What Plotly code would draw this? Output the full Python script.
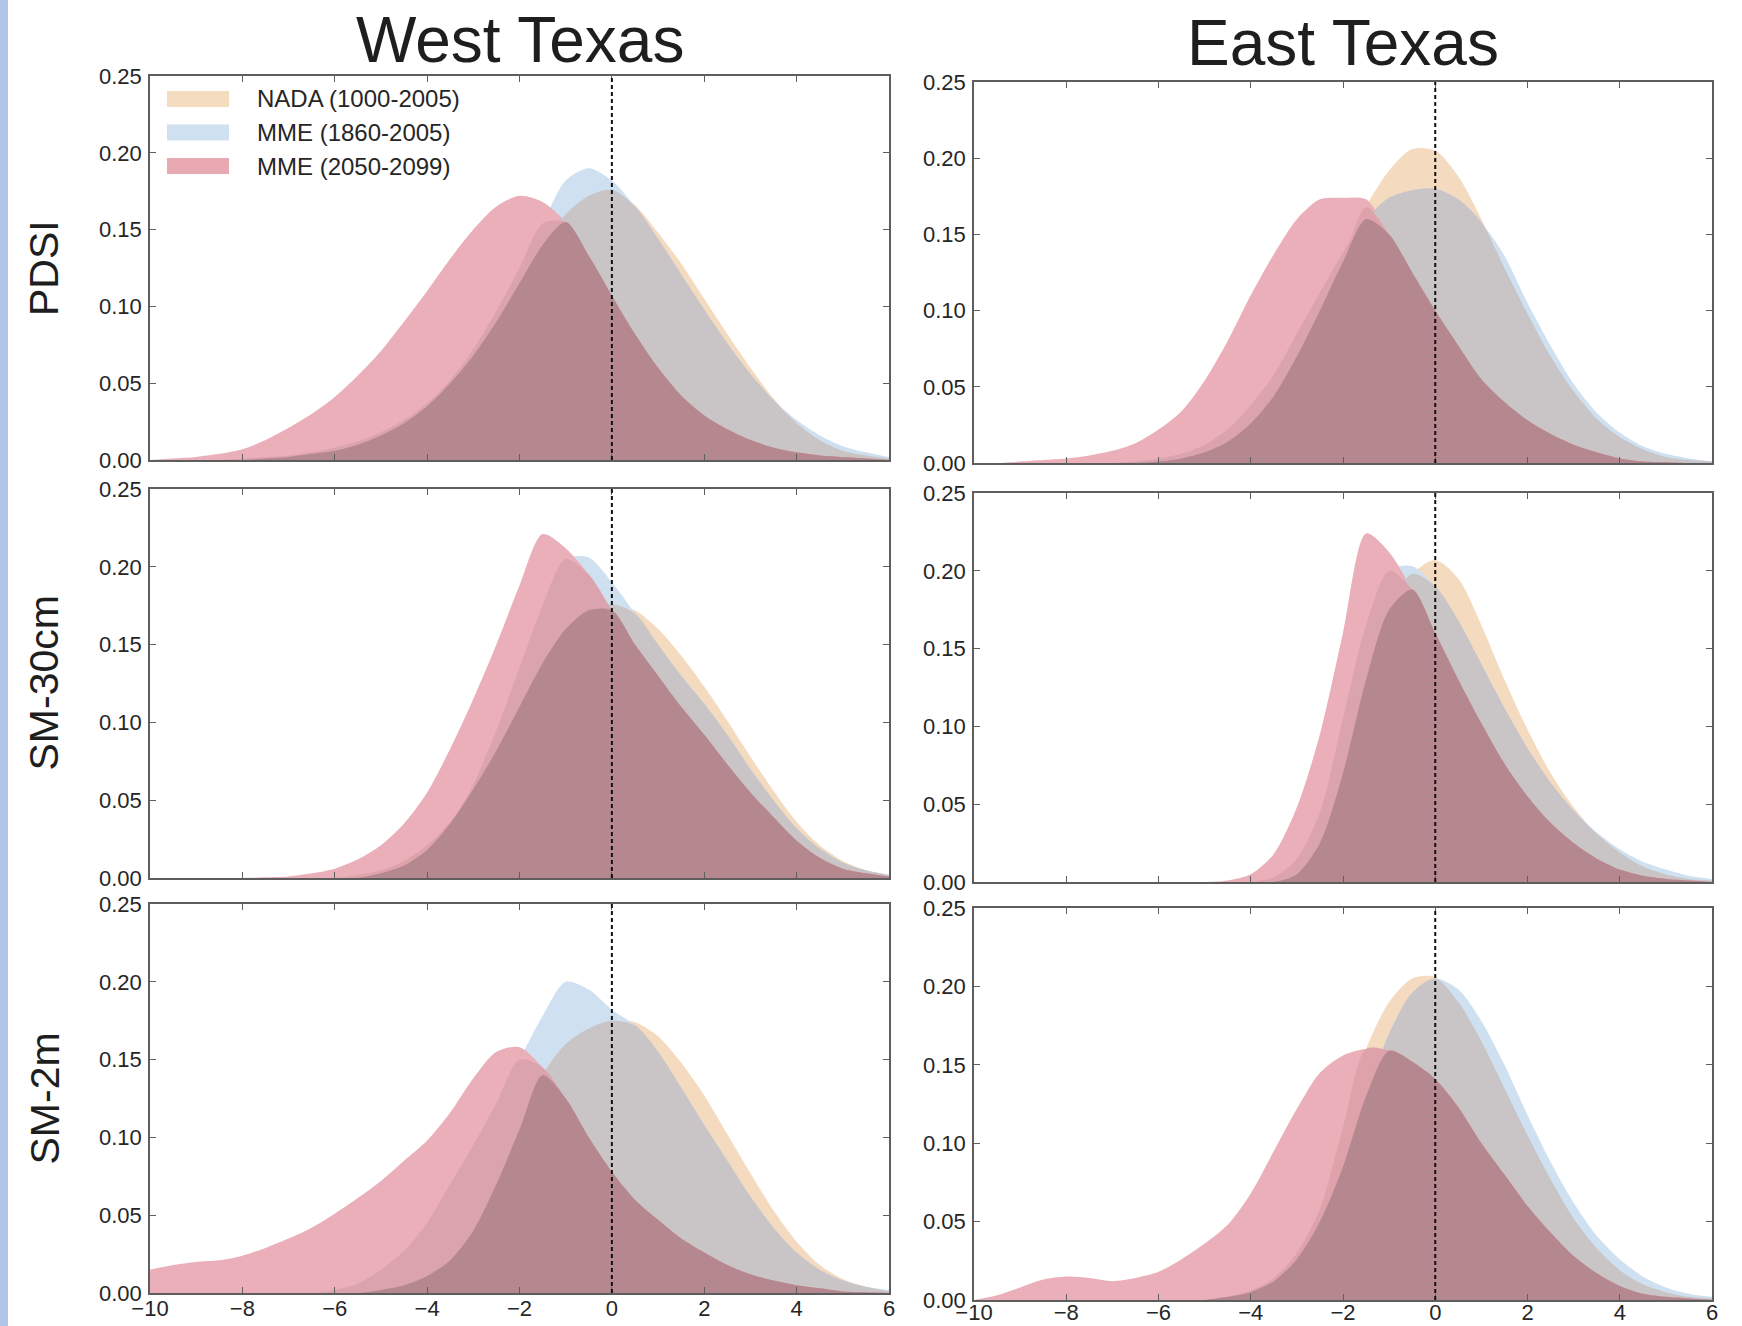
import numpy as np
import plotly.graph_objects as go

# ---------------------------------------------------------------------------
# Data: kernel density estimates of drought indices (shared x grid)
# ---------------------------------------------------------------------------
X_VALUES = [-10.0, -9.5, -9.0, -8.5, -8.0, -7.5, -7.0, -6.5, -6.0, -5.5, -5.0,
            -4.5, -4.0, -3.5, -3.0, -2.5, -2.0, -1.5, -1.0, -0.5, 0.0, 0.5,
            1.0, 1.5, 2.0, 2.5, 3.0, 3.5, 4.0, 4.5, 5.0, 5.5, 6.0]

SERIES_NAMES = ["NADA (1000-2005)", "MME (1860-2005)", "MME (2050-2099)"]
COLUMN_TITLES = ["West Texas", "East Texas"]
ROW_TITLES = ["PDSI", "SM-30cm", "SM-2m"]
X_TICKS = [-10, -8, -6, -4, -2, 0, 2, 4, 6]
Y_TICKS = [0.00, 0.05, 0.10, 0.15, 0.20, 0.25]

# West Texas
west_pdsi_nada = [0, 0, 0, 0, 0, 0.001, 0.002, 0.004, 0.006, 0.010, 0.016, 0.024, 0.035, 0.050,
                  0.068, 0.090, 0.115, 0.140, 0.160, 0.172, 0.176, 0.166, 0.148, 0.128, 0.105,
                  0.082, 0.060, 0.040, 0.024, 0.013, 0.006, 0.003, 0.001]
west_pdsi_hist = [0, 0, 0, 0, 0.001, 0.002, 0.003, 0.005, 0.008, 0.012, 0.018, 0.026, 0.037, 0.052,
                  0.072, 0.097, 0.125, 0.154, 0.182, 0.190, 0.182, 0.165, 0.144, 0.121, 0.098,
                  0.076, 0.056, 0.039, 0.026, 0.016, 0.009, 0.005, 0.002]
west_pdsi_future = [0, 0.001, 0.002, 0.004, 0.007, 0.013, 0.021, 0.030, 0.041, 0.055, 0.071, 0.090,
                    0.110, 0.131, 0.150, 0.165, 0.172, 0.168, 0.155, 0.133, 0.107, 0.082, 0.060,
                    0.042, 0.029, 0.020, 0.013, 0.008, 0.005, 0.003, 0.002, 0.001, 0]

west_sm30_nada = [0, 0, 0, 0, 0, 0, 0, 0, 0, 0.002, 0.005, 0.011, 0.021, 0.036, 0.057, 0.082,
                  0.110, 0.138, 0.160, 0.172, 0.176, 0.172, 0.160, 0.143, 0.123, 0.101, 0.078,
                  0.056, 0.036, 0.021, 0.011, 0.005, 0.002]
west_sm30_hist = [0, 0, 0, 0, 0, 0, 0, 0, 0, 0, 0.003, 0.008, 0.018, 0.035, 0.060, 0.095, 0.135,
                  0.175, 0.205, 0.206, 0.190, 0.170, 0.150, 0.130, 0.112, 0.092, 0.070, 0.050,
                  0.032, 0.019, 0.010, 0.005, 0.002]
west_sm30_future = [0, 0, 0, 0, 0, 0.0005, 0.001, 0.003, 0.006, 0.012, 0.021, 0.035, 0.055, 0.083,
                    0.115, 0.150, 0.188, 0.221, 0.212, 0.195, 0.172, 0.150, 0.130, 0.110, 0.092,
                    0.073, 0.055, 0.039, 0.024, 0.013, 0.006, 0.003, 0.001]

west_sm2m_nada = [0, 0, 0, 0, 0, 0, 0, 0, 0, 0, 0.002, 0.005, 0.011, 0.021, 0.040, 0.070, 0.105,
                  0.140, 0.160, 0.170, 0.175, 0.174, 0.165, 0.148, 0.127, 0.102, 0.077, 0.053,
                  0.033, 0.018, 0.009, 0.004, 0.001]
west_sm2m_hist = [0, 0, 0, 0, 0, 0, 0, 0, 0.002, 0.006, 0.015, 0.027, 0.045, 0.070, 0.095, 0.122,
                  0.150, 0.178, 0.200, 0.195, 0.182, 0.172, 0.155, 0.132, 0.108, 0.085, 0.062,
                  0.042, 0.026, 0.015, 0.008, 0.004, 0.002]
west_sm2m_future = [0.015, 0.018, 0.020, 0.021, 0.024, 0.029, 0.035, 0.042, 0.051, 0.061, 0.072,
                    0.085, 0.098, 0.116, 0.138, 0.155, 0.158, 0.145, 0.125, 0.100, 0.078, 0.060,
                    0.047, 0.035, 0.026, 0.018, 0.012, 0.008, 0.005, 0.003, 0.001, 0.0005, 0]

# East Texas
east_pdsi_nada = [0, 0, 0, 0, 0, 0, 0, 0, 0.001, 0.003, 0.007, 0.014, 0.026, 0.044, 0.070, 0.100,
                  0.132, 0.168, 0.192, 0.206, 0.205, 0.188, 0.160, 0.128, 0.098, 0.070, 0.047,
                  0.029, 0.017, 0.009, 0.004, 0.002, 0.001]
east_pdsi_hist = [0, 0, 0, 0, 0, 0, 0, 0.001, 0.003, 0.006, 0.012, 0.022, 0.038, 0.058, 0.085,
                  0.112, 0.138, 0.160, 0.174, 0.179, 0.180, 0.173, 0.158, 0.136, 0.105, 0.077,
                  0.052, 0.033, 0.020, 0.011, 0.006, 0.003, 0.001]
east_pdsi_future = [0, 0, 0.001, 0.002, 0.003, 0.005, 0.008, 0.013, 0.022, 0.034, 0.054, 0.080,
                    0.110, 0.137, 0.160, 0.173, 0.174, 0.173, 0.150, 0.125, 0.100, 0.077, 0.055,
                    0.040, 0.028, 0.019, 0.012, 0.007, 0.003, 0.001, 0.0005, 0, 0]

east_sm30_nada = [0, 0, 0, 0, 0, 0, 0, 0, 0, 0, 0, 0, 0, 0, 0.005, 0.025, 0.070, 0.130, 0.175,
                  0.198, 0.207, 0.195, 0.165, 0.130, 0.098, 0.070, 0.048, 0.031, 0.019, 0.010,
                  0.005, 0.002, 0.001]
east_sm30_hist = [0, 0, 0, 0, 0, 0, 0, 0, 0, 0, 0, 0, 0, 0.003, 0.015, 0.045, 0.105, 0.165, 0.200,
                  0.203, 0.190, 0.168, 0.140, 0.112, 0.086, 0.064, 0.046, 0.032, 0.021, 0.013,
                  0.008, 0.004, 0.002]
east_sm30_future = [0, 0, 0, 0, 0, 0, 0, 0, 0, 0, 0, 0.001, 0.005, 0.018, 0.048, 0.095, 0.160,
                    0.224, 0.212, 0.188, 0.160, 0.130, 0.102, 0.076, 0.055, 0.038, 0.025, 0.015,
                    0.008, 0.004, 0.002, 0.001, 0]

east_sm2m_nada = [0, 0, 0, 0, 0, 0, 0, 0, 0, 0, 0, 0.002, 0.006, 0.014, 0.030, 0.058, 0.110, 0.160,
                  0.190, 0.205, 0.206, 0.190, 0.165, 0.135, 0.105, 0.077, 0.052, 0.033, 0.019,
                  0.010, 0.005, 0.002, 0.001]
east_sm2m_hist = [0, 0, 0, 0, 0, 0, 0, 0, 0, 0, 0, 0.002, 0.005, 0.012, 0.026, 0.050, 0.085, 0.130,
                  0.170, 0.196, 0.205, 0.198, 0.178, 0.150, 0.118, 0.088, 0.062, 0.041, 0.026,
                  0.015, 0.008, 0.004, 0.002]
east_sm2m_future = [0, 0.003, 0.008, 0.013, 0.015, 0.014, 0.012, 0.014, 0.018, 0.026, 0.036, 0.048,
                    0.068, 0.095, 0.122, 0.145, 0.156, 0.160, 0.159, 0.152, 0.141, 0.123, 0.100,
                    0.080, 0.060, 0.043, 0.028, 0.017, 0.009, 0.004, 0.002, 0.001, 0]

PANELS = [
    (west_pdsi_nada, west_pdsi_hist, west_pdsi_future),
    (east_pdsi_nada, east_pdsi_hist, east_pdsi_future),
    (west_sm30_nada, west_sm30_hist, west_sm30_future),
    (east_sm30_nada, east_sm30_hist, east_sm30_future),
    (west_sm2m_nada, west_sm2m_hist, west_sm2m_future),
    (east_sm2m_nada, east_sm2m_hist, east_sm2m_future),
]

# ---------------------------------------------------------------------------
# Styling
# ---------------------------------------------------------------------------
W, H = 1742, 1326
FONT = "Liberation Sans, Arial, Helvetica, sans-serif"
TEXT = "#262626"
AXIS = "#5e5e5e"

# colours for each overlap combination of the shaded densities
C_O = "#f4dabf"    # NADA only
C_B = "#cfe0f1"    # MME historical only
C_R = "#eaafb9"    # MME future only
C_OB = "#c9c4c5"   # NADA + historical
C_OR = "#dea3aa"   # NADA + future
C_BR = "#dba3ae"   # historical + future
C_OBR = "#b5878f"  # all three
LEGEND_COLORS = ["#f4dcc0", "#cfe0f1", "#e8a9b3"]

# pixel boxes of the six panels (left, top, right, bottom)
COL_X = [(150, 889), (974, 1712)]
ROW_Y = [[(76, 460), (489, 878), (904, 1293)],
         [(82, 463), (493, 882), (908, 1300)]]
# extra pull of the bottom tick labels toward the axis, per column
X_LABEL_STANDOFF = [-5, -8]


def px_x(px):
    return px / W


def px_y(py):
    return 1 - py / H


fig = go.Figure()
x = np.asarray(X_VALUES)

for idx, (nada, hist, future) in enumerate(PANELS):
    row, col = divmod(idx, 2)
    n = idx + 1
    xa = "x" if n == 1 else f"x{n}"
    ya = "y" if n == 1 else f"y{n}"
    o, b, r = np.asarray(nada), np.asarray(hist), np.asarray(future)
    layers = [
        (o, C_O), (b, C_B), (r, C_R),
        (np.minimum(o, b), C_OB), (np.minimum(o, r), C_OR), (np.minimum(b, r), C_BR),
        (np.minimum(np.minimum(o, b), r), C_OBR),
    ]
    for ys, colr in layers:
        fig.add_trace(go.Scatter(
            x=x, y=ys, xaxis=xa, yaxis=ya, mode="lines",
            line=dict(width=0, shape="spline", smoothing=0.8, color=colr),
            fill="tozeroy", fillcolor=colr, hoverinfo="skip", showlegend=False,
        ))

    x0, x1 = COL_X[col]
    top, bottom = ROW_Y[col][row]
    axis_common = dict(showline=True, linecolor=AXIS, linewidth=1.6, mirror="ticks",
                       ticks="inside", ticklen=6, tickwidth=1.3, tickcolor=AXIS,
                       showgrid=False, zeroline=False, automargin=False,
                       tickfont=dict(family=FONT, size=22, color=TEXT))
    fig.update_layout({
        ("xaxis" if n == 1 else f"xaxis{n}"): dict(
            domain=[px_x(x0), px_x(x1)], anchor=ya, range=[-10, 6],
            tickvals=X_TICKS, showticklabels=(row == 2),
            ticklabelstandoff=X_LABEL_STANDOFF[col], **axis_common),
        ("yaxis" if n == 1 else f"yaxis{n}"): dict(
            domain=[px_y(bottom), px_y(top)], anchor=xa, range=[0, 0.25],
            tickvals=Y_TICKS, tickformat=".2f", ticklabelstandoff=2, **axis_common),
    })
    # reference line at zero
    fig.add_shape(type="line", xref=xa, yref=f"{ya} domain", x0=0, x1=0, y0=0, y1=1,
                  line=dict(color="#111111", width=2, dash="4px,3px"))

# column titles
for col, title in enumerate(COLUMN_TITLES):
    x0, x1 = COL_X[col]
    fig.add_annotation(text=title, x=px_x((x0 + x1) / 2), y=px_y(40 if col == 0 else 43),
                       xref="paper", yref="paper", showarrow=False,
                       xanchor="center", yanchor="middle",
                       font=dict(family=FONT, size=64, color="#1e1e1e"))

# row titles
for row, title in enumerate(ROW_TITLES):
    top, bottom = ROW_Y[0][row]
    fig.add_annotation(text=title, x=px_x(44), y=px_y((top + bottom) / 2),
                       xref="paper", yref="paper", showarrow=False, textangle=-90,
                       xanchor="center", yanchor="middle",
                       font=dict(family=FONT, size=41, color="#1e1e1e"))

# legend inside the first panel
for i, (name, colr) in enumerate(zip(SERIES_NAMES, LEGEND_COLORS)):
    cy = 99 + i * 33.5
    fig.add_shape(type="rect", xref="paper", yref="paper",
                  x0=px_x(167), x1=px_x(229), y0=px_y(cy + 8), y1=px_y(cy - 8),
                  fillcolor=colr, line=dict(width=0))
    fig.add_annotation(text=name, x=px_x(255), y=px_y(cy), xref="paper", yref="paper",
                       showarrow=False, xanchor="left", yanchor="middle",
                       font=dict(family=FONT, size=24, color=TEXT))

# slim blue strip along the left edge
fig.add_shape(type="rect", xref="paper", yref="paper", x0=0, x1=px_x(8), y0=0, y1=1,
              fillcolor="#b1c5e7", line=dict(width=0), layer="below")

fig.update_layout(
    width=W, height=H, margin=dict(l=0, r=0, t=0, b=0, autoexpand=False),
    paper_bgcolor="white", plot_bgcolor="white", showlegend=False,
    font=dict(family=FONT, color=TEXT),
)

fig.write_html("out.html")
